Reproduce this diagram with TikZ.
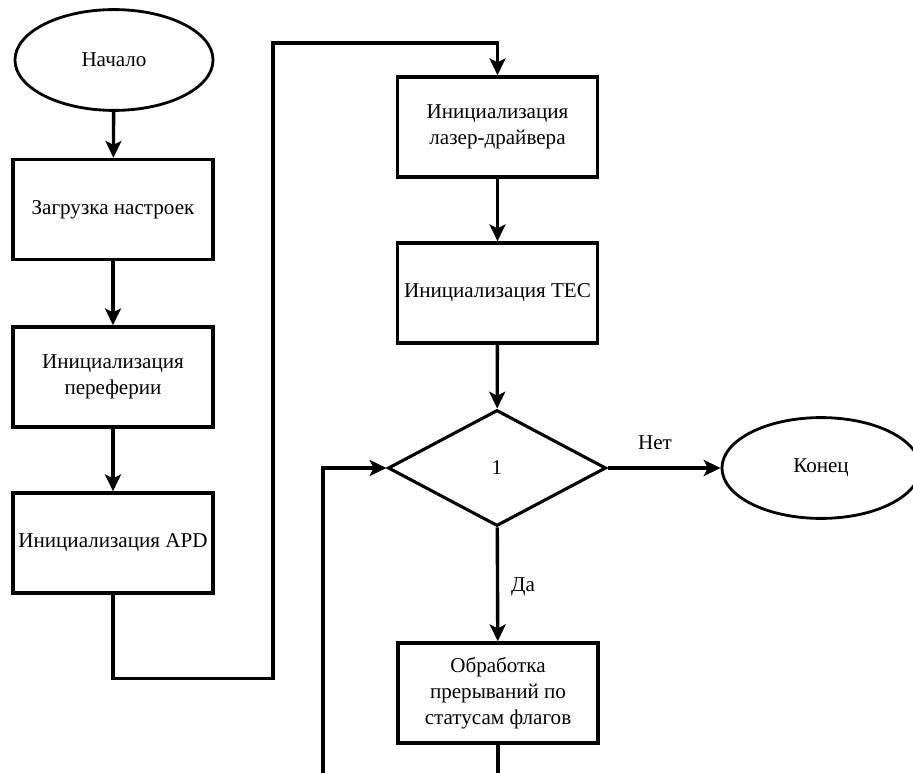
\documentclass[tikz,border=0pt]{standalone}
\usepackage{fontspec}
\setmainfont{Liberation Serif}
\usetikzlibrary{arrows.meta,shapes.geometric}

\begin{document}
\begin{tikzpicture}[x=0.025cm, y=-0.025cm,
		every node/.style={font=\fontsize{15}{18.5}\selectfont},
		flowbox/.style={draw, line width=2.5pt, rectangle, minimum width=5cm, minimum height=2.5cm, align=center, inner sep=1pt},
		terminal/.style={draw, line width=2pt, ellipse, minimum width=4.95cm, minimum height=2.52cm},
		decision/.style={draw, line width=2.2pt, diamond, minimum width=5.45cm, minimum height=2.9cm, inner sep=0pt},
		flow/.style={line width=2.4pt, -{Stealth[length=0.42cm, width=0.4cm, inset=0.1cm]}},
		wire/.style={line width=2.4pt}]
			%%%%% START %%%%%
			
			\useasboundingbox (0, 0) rectangle (913, 773);
			\clip (0, 0) rectangle (913, 773);
			
			% left column
			\node[terminal] (start) at (114, 60) {Начало};
			\node[flowbox] (load) at (113, 209.5) {Загрузка настроек};
			\node[flowbox] (periph) at (113, 377) {Инициализация\\переферии};
			\node[flowbox] (apd) at (113, 543) {Инициализация APD};
			
			% right column
			\node[flowbox] (laser) at (497.5, 127) {Инициализация\\лазер-драйвера};
			\node[flowbox] (tec) at (497.5, 293) {Инициализация TEC};
			\node[decision] (cond) at (497, 468) {1};
			\node[terminal] (finish) at (821, 468) {Конец};
			\node[flowbox] (handler) at (498, 693) {Обработка\\прерываний по\\статусам флагов};
			
			\node (no) at (655, 443) {Нет};
			\node (yes) at (523, 587) {Да};
			
			\coordinate (tail) at (498, 773);
			\coordinate (back) at (323, 773);
			
			\draw[flow] (start) -- (load);
			\draw[flow] (load) -- (periph);
			\draw[flow] (periph) -- (apd);
			\draw[flow] (apd.south) -- ++(0, 84) -| (273, 43) -| (laser.north);
			\draw[flow] (laser) -- (tec);
			\draw[flow] (tec) -- (cond);
			\draw[flow] (cond) -- (finish);
			\draw[flow] (cond) -- (handler);
			\draw[wire] (handler) -- (tail);
			\draw[flow] (back) |- (cond.west);
			
			%%%%% END %%%%%
\end{tikzpicture}
\end{document}
